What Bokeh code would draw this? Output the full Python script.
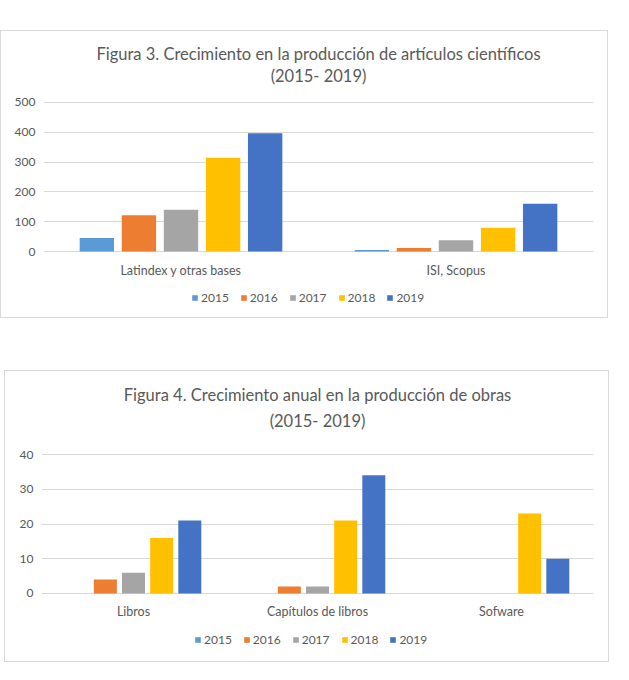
from bokeh.plotting import figure
from bokeh.models import Range1d, Title, ColumnDataSource, Spacer
from bokeh.transform import dodge
from bokeh.layouts import column, row
from bokeh.embed import file_html
from bokeh.resources import INLINE

years = ["2015", "2016", "2017", "2018", "2019"]
colors = ["#5B9BD5", "#ED7D31", "#A5A5A5", "#FFC000", "#4472C4"]

cats1 = ["Latindex y otras bases", "ISI, Scopus"]
v1_2015 = [45, 5]
v1_2016 = [122, 12]
v1_2017 = [140, 38]
v1_2018 = [315, 80]
v1_2019 = [397, 160]
ticks1 = [0, 100, 200, 300, 400, 500]

cats2 = ["Libros", "Capítulos de libros", "Sofware"]
v2_2015 = [0, 0, 0]
v2_2016 = [4, 2, 0]
v2_2017 = [6, 2, 0]
v2_2018 = [16, 21, 23]
v2_2019 = [21, 34, 10]
ticks2 = [0, 10, 20, 30, 40]

FONT = "Lato"
GREY = "#595959"


def make(cats, series, ticks, yr, title1, title2, w, h, ml, mr, mt, mb,
         s1, s2, legloc):
    p = figure(x_range=cats, y_range=Range1d(*yr), width=w, height=h,
               output_backend="svg", toolbar_location=None,
               min_border_left=ml, min_border_right=mr,
               min_border_top=mt, min_border_bottom=mb,
               styles={"border": "1px solid #d9d9d9", "box-sizing": "border-box"})
    p.x_range.range_padding = 0
    data = {"cat": cats}
    for y, s in zip(years, series):
        data[y] = s
    src = ColumnDataSource(data)
    offs = [-0.306, -0.153, 0.0, 0.153, 0.306]
    for y, c, o in zip(years, colors, offs):
        p.vbar(x=dodge("cat", o, range=p.x_range), top=y, width=0.125,
               source=src, fill_color=c, line_color=None, legend_label=y)
    leg = p.legend[0]
    leg.orientation = "horizontal"
    leg.location = legloc
    leg.glyph_width = 7
    leg.glyph_height = 7
    leg.label_standoff = 3
    leg.spacing = 11
    leg.padding = 0
    leg.margin = 0
    leg.border_line_color = None
    leg.background_fill_alpha = 0
    leg.label_text_font = FONT
    leg.label_text_font_size = "12px"
    leg.label_text_color = GREY
    p.title.text = title1
    p.title.align = "center"
    p.title.text_font = FONT
    p.title.text_font_size = "16.5px"
    p.title.text_font_style = "normal"
    p.title.text_color = GREY
    p.title.standoff = s1
    p.add_layout(Title(text=title2, align="center", text_font=FONT,
                       text_font_size="16.5px", text_font_style="normal",
                       text_color=GREY, standoff=s2), "above")
    p.yaxis.ticker = ticks
    for ax in (p.xaxis, p.yaxis):
        ax.axis_line_color = None
        ax.major_tick_line_color = None
        ax.minor_tick_line_color = None
        ax.major_tick_out = 0
        ax.major_tick_in = 0
        ax.major_label_text_font = FONT
        ax.major_label_text_color = GREY
    p.yaxis.major_label_text_font_size = "12px"
    p.xaxis.major_label_text_font_size = "12.5px"
    p.xaxis.fixed_location = 0
    p.xaxis.major_label_standoff = 11
    p.yaxis.major_label_standoff = 8
    p.xgrid.grid_line_color = None
    p.ygrid.grid_line_color = "#d9d9d9"
    p.outline_line_color = None
    return p


p1 = make(cats1, [v1_2015, v1_2016, v1_2017, v1_2018, v1_2019], ticks1,
          (-208.0, 557.0),
          "Figura 3. Crecimiento en la producción de artículos científicos",
          "(2015- 2019)", 608, 288, 42, 16, 54, 6, 0, 0, (148, 8))
p2 = make(cats2, [v2_2015, v2_2016, v2_2017, v2_2018, v2_2019], ticks2,
          (-18.42, 45.76),
          "Figura 4. Crecimiento anual en la producción de obras",
          "(2015- 2019)", 605, 292, 36, 17, 63, 6, 0, 8, (153, 10))

layout = column(Spacer(height=30), p1, Spacer(height=52),
                row(Spacer(width=4), p2), spacing=0)
open("out.html", "w").write(file_html(layout, INLINE))
